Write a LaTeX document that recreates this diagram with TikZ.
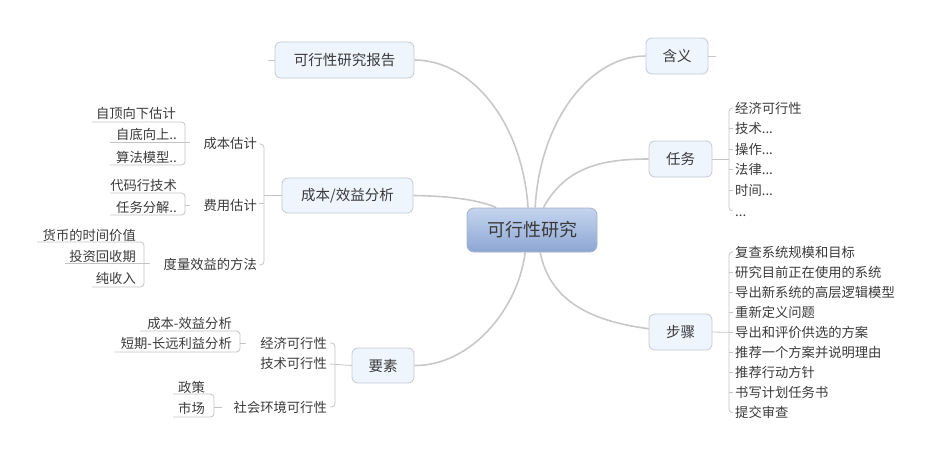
\documentclass[tikz,border=0pt]{standalone}
\usepackage{fontspec}
\setmainfont{Noto Sans CJK SC}
\usetikzlibrary{backgrounds}
\definecolor{edgegray}{HTML}{C8C8C8}
\definecolor{brcol}{HTML}{C4C4C4}
\definecolor{textcol}{HTML}{3A3A3A}
\definecolor{topicfill}{HTML}{EEF5FD}
\definecolor{topicborder}{HTML}{C4CAD4}
\definecolor{ctop}{HTML}{C4D4EF}
\definecolor{cbot}{HTML}{8DA7D3}
\definecolor{cborder}{HTML}{A6B3C7}
\begin{document}
\begin{tikzpicture}[x=1pt,y=-1pt,
  topic/.style={draw=topicborder, fill=topicfill, rounded corners=6pt, line width=0.8pt,
    text=textcol, font=\fontsize{14.5pt}{17pt}\selectfont, inner sep=0pt},
  leaf/.style={text=textcol, font=\fontsize{13.3pt}{16pt}\selectfont, inner sep=0pt,
    text height=11pt, text depth=1pt},
  lleaf/.style={leaf, anchor=east},
  rleaf/.style={leaf, anchor=west},
  br/.style={draw=brcol, line width=0.8pt, rounded corners=3.5pt},
  conn/.style={draw=edgegray, line width=1.6pt}]
\useasboundingbox (0,0) rectangle (940,459);

% central and main topics
\node[draw=cborder, top color=ctop, bottom color=cbot, rounded corners=7pt, line width=0.8pt,
  minimum width=130pt, minimum height=44pt, inner sep=0pt, text=textcol,
  font=\fontsize{18pt}{21pt}\selectfont] (center) at (532,230) {可行性研究};
\node[topic, minimum width=139pt, minimum height=36pt] (report) at (344.5,60) {可行性研究报告};
\node[topic, minimum width=131pt, minimum height=35pt] (cba) at (347.5,195.5) {成本/效益分析};
\node[topic, minimum width=62pt, minimum height=35pt] (yaosu) at (383,365.5) {要素};
\node[topic, minimum width=62pt, minimum height=36pt] (hanyi) at (677,56) {含义};
\node[topic, minimum width=63pt, minimum height=36pt] (renwu) at (680.5,159) {任务};
\node[topic, minimum width=63pt, minimum height=36pt] (buzhou) at (680.5,332) {步骤};

\begin{scope}[on background layer]
\draw[conn] (report.east) .. controls (470,60) and (522,120) .. (center.100);
\draw[conn] (hanyi.west) .. controls (590,56) and (540,120) .. (center.82);
\draw[conn] (renwu.west) .. controls (600,159) and (565,168) .. (center.63);
\draw[conn] (cba.east) .. controls (450,196) and (480,200) .. (center.148);
\draw[conn] (yaosu.east) .. controls (470,366) and (518,310) .. (center.253);
\draw[conn] (buzhou.east) .. controls (590,333) and (550,300) .. (center.290);
\end{scope}

% stubs (collapsed branches)
\draw[br] (report.west) -- ++(-7,0);
\draw[br] (hanyi.east) -- ++(8,0);

% cost/benefit analysis children
\node[lleaf] (c1) at (257,143) {成本估计};
\node[lleaf] (c2) at (257,205) {费用估计};
\node[lleaf] (c3) at (257,264) {度量效益的方法};
\draw[br] (259,144) -| (264,265) -- (259,265);
\draw[br] (259,203) -- (264,203);
\draw[br] (cba.west) -- (264,195.5);

\node[lleaf] (a1) at (176,113) {自顶向下估计};
\node[lleaf] (a2) at (177,134) {自底向上..};
\node[lleaf] (a3) at (177,157) {算法模型..};
\draw[br] (92,122) -| (185,165) -- (110,165);
\draw[br] (110,142.5) -- (190,142.5);

\node[lleaf] (b1) at (177,185) {代码行技术};
\node[lleaf] (b2) at (177,207) {任务分解..};
\draw[br] (110,193) -| (185,215) -- (110,215);
\draw[br] (185,205) -- (190,205);

\node[lleaf] (m1) at (136,235) {货币的时间价值};
\node[lleaf] (m2) at (136,256) {投资回收期};
\node[lleaf] (m3) at (136,278) {纯收入};
\draw[br] (37,242) -| (144,287) -- (92,287);
\draw[br] (65,263) -- (150,263);

% elements children
\node[lleaf] (y1) at (327,343) {经济可行性};
\node[lleaf] (y2) at (327,363) {技术可行性};
\node[lleaf] (y3) at (327,407) {社会环境可行性};
\draw[br] (330,343) -| (335,407) -- (330,407);
\draw[br] (330,364) -- (yaosu.west);

\node[lleaf] (e1) at (232,323) {成本-效益分析};
\node[lleaf] (e2) at (232,343) {短期-长远利益分析};
\draw[br] (140,331) -| (240,352) -- (115,352);
\draw[br] (240,343) -- (246,343);

\node[lleaf] (s1) at (205,387) {政策};
\node[lleaf] (s2) at (205,408) {市场};
\draw[br] (173,394) -| (214,417) -- (173,417);
\draw[br] (214,407) -- (222,407);

% tasks children
\node[rleaf] (r1) at (735,108) {经济可行性};
\node[rleaf] (r2) at (735,128.6) {技术...};
\node[rleaf] (r3) at (735,149.2) {操作...};
\node[rleaf] (r4) at (735,169.8) {法律...};
\node[rleaf] (r5) at (735,190.4) {时间...};
\node[rleaf] (r6) at (735,211) {...};
\draw[br] (733,108) -| (729,211) -- (733,211);
\foreach \yy in {128.6,149.2,169.8,190.4} \draw[br] (729,\yy) -- (733,\yy);
\draw[br] (renwu.east) -- (729,159);

% steps children
\node[rleaf] (p1) at (735,252) {复查系统规模和目标};
\node[rleaf] (p2) at (735,272.1) {研究目前正在使用的系统};
\node[rleaf] (p3) at (735,292.2) {导出新系统的高层逻辑模型};
\node[rleaf] (p4) at (735,312.3) {重新定义问题};
\node[rleaf] (p5) at (735,332.4) {导出和评价供选的方案};
\node[rleaf] (p6) at (735,352.5) {推荐一个方案并说明理由};
\node[rleaf] (p7) at (735,372.6) {推荐行动方针};
\node[rleaf] (p8) at (735,392.7) {书写计划任务书};
\node[rleaf] (p9) at (735,412.8) {提交审查};
\draw[br] (733,252) -| (729,412.8) -- (733,412.8);
\foreach \yy in {272.1,292.2,312.3,352.5,372.6,392.7} \draw[br] (729,\yy) -- (733,\yy);
\draw[br] (buzhou.east) -- (733,332.4);
\end{tikzpicture}
\end{document}
